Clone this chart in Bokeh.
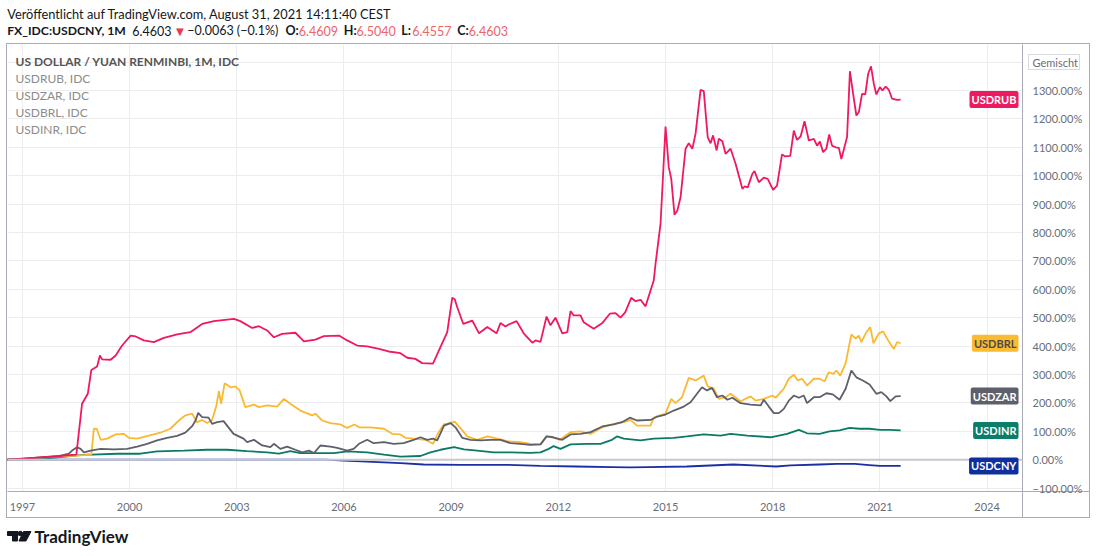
from bokeh.plotting import figure
from bokeh.layouts import column
from bokeh.models import (Range1d, FixedTicker, CustomJSTickFormatter, Label, Span)
from bokeh.embed import file_html
from bokeh.resources import INLINE

# ---------------- data (percent change vs. start, monthly series) ----
rub_t = [1996.57, 1997.0, 1997.5, 1998.0, 1998.51, 1998.67, 1998.83, 1998.93, 1999.09, 1999.17,
         1999.23, 1999.47, 1999.61, 1999.79, 2000.03, 2000.17, 2000.40, 2000.68, 2000.96, 2001.33,
         2001.70, 2002.03, 2002.36, 2002.92, 2003.10, 2003.43, 2003.62, 2003.85, 2004.04, 2004.27,
         2004.64, 2004.88, 2005.20, 2005.44, 2005.86, 2006.09, 2006.37, 2006.65, 2006.98, 2007.25,
         2007.58, 2007.77, 2008.00, 2008.19, 2008.49, 2008.89, 2009.03, 2009.10, 2009.17, 2009.34,
         2009.59, 2009.78, 2010.01, 2010.27, 2010.38, 2010.52, 2010.61, 2010.83, 2011.03, 2011.27,
         2011.36, 2011.50, 2011.67, 2011.78, 2011.92, 2012.11, 2012.25, 2012.34, 2012.43, 2012.62,
         2012.71, 2012.99, 2013.23, 2013.44, 2013.60, 2013.74, 2013.87, 2014.04, 2014.16, 2014.30,
         2014.44, 2014.58, 2014.67, 2014.72, 2014.86, 2015.00, 2015.09, 2015.16, 2015.25, 2015.33,
         2015.42, 2015.56, 2015.65, 2015.75, 2015.84, 2015.98, 2016.07, 2016.18, 2016.26, 2016.33,
         2016.43, 2016.49, 2016.59, 2016.68, 2016.82, 2016.96, 2017.15, 2017.21, 2017.30, 2017.43,
         2017.49, 2017.61, 2017.75, 2017.86, 2018.01, 2018.12, 2018.26, 2018.35, 2018.49, 2018.59,
         2018.68, 2018.78, 2018.89, 2019.01, 2019.15, 2019.24, 2019.32, 2019.41, 2019.50, 2019.58,
         2019.66, 2019.76, 2019.85, 2019.92, 2020.08, 2020.16, 2020.25, 2020.34, 2020.41, 2020.50,
         2020.59, 2020.67, 2020.75, 2020.83, 2020.90, 2021.00, 2021.07, 2021.16, 2021.25, 2021.34,
         2021.48, 2021.58]
rub_v = [0, 3, 8, 13, 18, 197, 232, 316, 328, 367,
         353, 352, 367, 402, 437, 434, 420, 414, 429, 441,
         449, 478, 488, 496, 488, 464, 470, 455, 431, 443,
         447, 417, 423, 435, 437, 420, 402, 399, 390, 381,
         375, 359, 355, 340, 338, 449, 570, 565, 537, 478,
         490, 445, 467, 445, 481, 469, 476, 488, 445, 412,
         420, 415, 504, 473, 500, 445, 449, 523, 508, 508,
         484, 461, 481, 514, 516, 500, 519, 570, 558, 563,
         540, 596, 631, 690, 831, 1173, 1030, 989, 863, 877,
         924, 1095, 1114, 1095, 1148, 1302, 1298, 1136, 1114, 1142,
         1089, 1130, 1121, 1077, 1095, 1042, 954, 962, 959, 1007,
         1016, 977, 993, 989, 950, 965, 1075, 1068, 1070, 1159,
         1126, 1138, 1192, 1124, 1130, 1106, 1120, 1083, 1095, 1145,
         1106, 1100, 1098, 1059, 1136, 1368, 1288, 1212, 1224, 1288,
         1286, 1359, 1385, 1323, 1286, 1312, 1300, 1314, 1302, 1271,
         1267, 1268]

brl_t = [1996.57, 1997.5, 1998.5, 1998.93, 1999.00, 1999.08, 1999.19, 1999.37, 1999.61, 1999.84,
         1999.98, 2000.21, 2000.54, 2000.86, 2001.14, 2001.38, 2001.56, 2001.75, 2001.89, 2002.03,
         2002.17, 2002.31, 2002.43, 2002.50, 2002.56, 2002.66, 2002.83, 2002.96, 2003.08, 2003.24,
         2003.48, 2003.62, 2003.85, 2004.13, 2004.32, 2004.50, 2004.78, 2005.11, 2005.20, 2005.39,
         2005.62, 2005.90, 2006.09, 2006.29, 2006.42, 2006.74, 2007.12, 2007.35, 2007.58, 2007.72,
         2007.95, 2008.28, 2008.49, 2008.65, 2008.79, 2008.98, 2009.10, 2009.26, 2009.45, 2009.73,
         2010.01, 2010.29, 2010.57, 2010.94, 2011.22, 2011.50, 2011.67, 2011.85, 2012.04, 2012.34,
         2012.62, 2012.90, 2013.23, 2013.55, 2013.83, 2014.02, 2014.20, 2014.58, 2014.67, 2015.00,
         2015.16, 2015.28, 2015.46, 2015.65, 2015.84, 2016.07, 2016.18, 2016.35, 2016.49, 2016.68,
         2016.82, 2017.10, 2017.38, 2017.52, 2017.75, 2017.99, 2018.08, 2018.31, 2018.45, 2018.59,
         2018.70, 2018.82, 2018.96, 2019.15, 2019.31, 2019.45, 2019.57, 2019.70, 2019.78, 2019.89,
         2020.04, 2020.20, 2020.32, 2020.41, 2020.48, 2020.62, 2020.73, 2020.82, 2020.97, 2021.09,
         2021.23, 2021.39, 2021.48, 2021.58]
brl_v = [0, 7, 14, 18, 109, 109, 70, 74, 89, 91,
         77, 74, 85, 95, 109, 138, 156, 162, 132, 140,
         129, 140, 191, 241, 197, 269, 255, 258, 244, 185,
         194, 185, 191, 187, 214, 197, 173, 156, 162, 138,
         129, 124, 112, 124, 114, 114, 109, 91, 89, 77,
         74, 70, 56, 97, 124, 129, 134, 111, 82, 70,
         82, 74, 65, 62, 56, 54, 82, 79, 70, 97,
         100, 91, 114, 126, 132, 140, 120, 120, 148, 162,
         214, 199, 220, 288, 279, 296, 258, 250, 214, 220,
         232, 206, 223, 208, 214, 226, 218, 250, 285, 299,
         279, 285, 261, 285, 285, 276, 308, 302, 314, 296,
         340, 441, 426, 437, 414, 449, 467, 410, 445, 452,
         420, 390, 414, 410]

zar_t = [1996.57, 1997.0, 1997.5, 1998.0, 1998.30, 1998.39, 1998.53, 1998.63, 1998.72, 1998.91,
         1999.19, 1999.56, 1999.93, 2000.21, 2000.49, 2000.77, 2001.05, 2001.33, 2001.56, 2001.75,
         2001.84, 2001.92, 2002.03, 2002.21, 2002.31, 2002.45, 2002.63, 2002.91, 2003.19, 2003.29,
         2003.48, 2003.71, 2003.94, 2004.04, 2004.22, 2004.41, 2004.64, 2004.83, 2005.02, 2005.16,
         2005.34, 2005.62, 2005.81, 2006.09, 2006.27, 2006.42, 2006.65, 2006.83, 2007.12, 2007.39,
         2007.67, 2007.95, 2008.14, 2008.33, 2008.49, 2008.61, 2008.80, 2008.98, 2009.12, 2009.31,
         2009.54, 2009.82, 2010.10, 2010.38, 2010.66, 2010.94, 2011.22, 2011.50, 2011.67, 2011.85,
         2012.11, 2012.34, 2012.62, 2012.90, 2013.23, 2013.55, 2013.78, 2014.00, 2014.20, 2014.58,
         2014.77, 2015.00, 2015.23, 2015.51, 2015.70, 2015.88, 2016.02, 2016.16, 2016.30, 2016.44,
         2016.59, 2016.73, 2016.87, 2017.10, 2017.38, 2017.66, 2017.75, 2017.89, 2018.03, 2018.17,
         2018.31, 2018.45, 2018.59, 2018.73, 2018.87, 2018.96, 2019.15, 2019.31, 2019.50, 2019.68,
         2019.87, 2020.04, 2020.20, 2020.34, 2020.52, 2020.71, 2020.90, 2021.04, 2021.18, 2021.29,
         2021.44, 2021.58]
zar_v = [0, 4, 8, 12, 21, 32, 44, 38, 26, 32,
         38, 36, 38, 46, 56, 68, 77, 84, 95, 118,
         136, 165, 150, 148, 126, 132, 136, 91, 74, 62,
         70, 50, 44, 56, 38, 46, 35, 26, 32, 23,
         50, 46, 42, 32, 38, 56, 70, 58, 62, 56,
         58, 70, 79, 70, 74, 68, 120, 129, 114, 77,
         70, 68, 70, 70, 58, 56, 52, 54, 82, 79,
         70, 89, 91, 97, 117, 124, 132, 148, 138, 140,
         152, 159, 173, 187, 202, 232, 255, 244, 253, 220,
         226, 211, 218, 199, 194, 191, 211, 187, 164, 164,
         179, 208, 226, 218, 226, 199, 220, 220, 234, 230,
         211, 250, 314, 290, 279, 265, 232, 238, 223, 206,
         223, 224]

inr_t = [1996.57, 1997.5, 1998.0, 1998.53, 1998.81, 1998.95, 1999.65, 2000.30, 2000.77, 2001.52,
         2002.17, 2002.73, 2003.29, 2003.85, 2004.18, 2004.50, 2004.78, 2005.16, 2005.72, 2006.09,
         2006.65, 2007.12, 2007.58, 2008.14, 2008.42, 2008.70, 2009.08, 2009.36, 2009.73, 2010.19,
         2010.66, 2011.22, 2011.50, 2011.73, 2011.87, 2012.06, 2012.34, 2012.80, 2013.18, 2013.50,
         2013.64, 2013.83, 2014.30, 2014.67, 2015.23, 2015.60, 2016.07, 2016.54, 2016.82, 2017.29,
         2017.94, 2018.40, 2018.73, 2018.96, 2019.31, 2019.59, 2019.87, 2020.15, 2020.43, 2020.71,
         2021.00, 2021.27, 2021.58]
inr_v = [0, 3, 8, 15, 18, 18, 21, 21, 29, 32,
         35, 35, 30, 26, 21, 30, 23, 23, 23, 29,
         26, 18, 11, 13, 26, 35, 44, 36, 32, 26,
         26, 24, 26, 38, 48, 38, 54, 56, 56, 70,
         82, 74, 68, 74, 77, 82, 89, 85, 91, 85,
         79, 91, 105, 93, 91, 100, 103, 112, 109, 109,
         105, 105, 103]

cny_t = [1996.57, 2005.50, 2006.00, 2006.65, 2007.58, 2008.23, 2009.26, 2010.50, 2011.50, 2012.50,
         2013.50, 2014.00, 2014.50, 2015.60, 2016.90, 2018.10, 2018.50, 2019.30, 2019.80, 2020.30,
         2020.70, 2021.00, 2021.58]
cny_v = [0, 0, -3, -7, -12, -17, -18, -18, -22, -24,
         -26, -27, -26, -24, -17, -24, -20, -17, -15, -15,
         -19, -22, -22]

x_ticks = [1997, 2000, 2003, 2006, 2009, 2012, 2015, 2018, 2021, 2024]
y_ticks = [-100, 0, 100, 200, 300, 400, 500, 600, 700, 800, 900, 1000, 1100, 1200, 1300, 1400]
scale_button = "Gemischt"

series = [  # name, times, values, line colour, badge colour, badge text colour
    ("USDCNY", cny_t, cny_v, "#1a2fa0", "#0f2f9e", "#ffffff"),
    ("USDINR", inr_t, inr_v, "#0a7a66", "#0b7d69", "#ffffff"),
    ("USDBRL", brl_t, brl_v, "#fbb832", "#fbbb30", "#4a4a4a"),
    ("USDZAR", zar_t, zar_v, "#5d606b", "#5d606b", "#ffffff"),
    ("USDRUB", rub_t, rub_v, "#f0185f", "#ec1a5e", "#ffffff"),
]

FONT = "Lato"
GRID = "#ececec"
BORDER = "#a9acb4"
BUTTON = "#d9dbe1"
DARK = "#131722"
RED = "#f0636a"


def lab(fig, x, y, text, color, size="12.5px", style="normal", align="left"):
    # x in pixels from the strip's left edge, y in the strip's (pixel-like) data units
    fig.add_layout(Label(x=x, y=y, x_units="screen", text=text, text_color=color,
                         text_font=FONT, text_font_size=size, text_font_style=style,
                         text_align=align, text_baseline="middle"))


# ---------------- header strip ----------------
head = figure(width=1098, height=43, x_range=Range1d(0, 1030), y_range=Range1d(43, 0),
              output_backend="svg", toolbar_location=None, x_axis_type=None,
              y_axis_type=None, min_border=0)
head.outline_line_color = None
head.grid.visible = False

lab(head, 6.7, 13.3, "Veröffentlicht auf TradingView.com, August 31, 2021 14:11:40 CEST", DARK,
    size="12.8px")
lab(head, 6.7, 30, "FX_IDC:USDCNY, 1M", DARK, size="12.2px", style="bold")
lab(head, 131.7, 30, "6.4603", DARK)
lab(head, 173, 30.5, "▼", "#f23645", size="13px")
lab(head, 186.7, 30, "−0.0063 (−0.1%)", DARK)
for xk, k, xv, val in [(285, "O:", 298.3, "6.4609"), (343.3, "H:", 356, "6.5040"),
                       (400.7, "L:", 411.7, "6.4557"), (456.7, "C:", 468.3, "6.4603")]:
    lab(head, xk, 30, k, DARK, style="bold")
    lab(head, xv, 30, val, RED)

# ---------------- main chart ----------------
# container frame (CSS border) plus the corner lines of the axis area and the
# outline of the scale-mode button, painted behind the transparent axis panels
segments = [  # (width, height, x, y) in px inside the chart container
    (1, 28, 1015, 447), (69, 1, 1015, 447),
    (52, 1, 1021, 10), (52, 1, 1021, 25), (1, 16, 1021, 10), (1, 16, 1072, 10),
]
seg_cols = [BORDER, BORDER, BUTTON, BUTTON, BUTTON, BUTTON]
container_style = {
    "border": "1px solid " + BORDER,
    "background-image": ", ".join("linear-gradient(%s, %s)" % (c, c) for c in seg_cols),
    "background-size": ", ".join("%dpx %dpx" % (w, h) for w, h, _, _ in segments),
    "background-position": ", ".join("%dpx %dpx" % (x, y) for _, _, x, y in segments),
    "background-repeat": "no-repeat",
}
p = figure(width=1084, height=475, x_range=Range1d(1996.583, 2024.99),
           y_range=Range1d(-112, 1462), output_backend="svg", toolbar_location=None,
           y_axis_location="right", min_border_left=0, min_border_right=69,
           min_border_top=0, min_border_bottom=28, styles=container_style,
           margin=(0, 0, 0, 6))
p.outline_line_color = None
p.background_fill_color = "white"
p.border_fill_color = None

p.xaxis.ticker = FixedTicker(ticks=x_ticks)
p.xaxis.formatter = CustomJSTickFormatter(code="return tick.toFixed(0);")
p.yaxis.ticker = FixedTicker(ticks=y_ticks)
p.yaxis.formatter = CustomJSTickFormatter(
    code="return (tick < 0 ? '\u2212' : '') + Math.abs(tick).toFixed(2) + '%';")
p.yaxis.major_label_overrides = {y_ticks[-1]: scale_button}
for ax in (p.xaxis[0], p.yaxis[0]):
    ax.axis_line_color = BORDER
    ax.major_tick_line_color = None
    ax.minor_tick_line_color = None
    ax.major_tick_out = 0
    ax.major_tick_in = 0
    ax.major_label_text_font = FONT
    ax.major_label_text_font_size = "11px"
    ax.major_label_text_color = "#6a6d78"
p.xaxis.major_label_standoff = 11
p.yaxis.major_label_standoff = 10

p.xgrid.ticker = FixedTicker(ticks=x_ticks)
p.ygrid.ticker = FixedTicker(ticks=y_ticks)
p.xgrid.grid_line_color = GRID
p.ygrid.grid_line_color = GRID

p.add_layout(Span(location=0, dimension="width", line_color="#c6c8d0", line_width=2))

for name, t, v, col, bcol, tcol in series:
    p.line(t, v, line_color=col, line_width=1.8)

# badges with the last value of every series, at the right edge of the pane
for name, t, v, col, bcol, tcol in series:
    p.add_layout(Label(x=1011, x_units="screen", y=v[-1], text=name, text_align="right",
                       text_baseline="middle", text_font=FONT, text_font_size="11px",
                       text_font_style="bold", text_color=tcol, background_fill_color=bcol,
                       border_radius=2, padding=2))

# pane legend (screen units: from frame bottom-left, y up; frame is 447 px high)
p.add_layout(Label(x=8, y=447 - 17, x_units="screen", y_units="screen",
                   text="US DOLLAR / YUAN RENMINBI, 1M, IDC", text_color="#555555",
                   text_font=FONT, text_font_size="12px", text_font_style="bold",
                   text_baseline="middle"))
for i, txt in enumerate(["USDRUB, IDC", "USDZAR, IDC", "USDBRL, IDC", "USDINR, IDC"]):
    p.add_layout(Label(x=8, y=447 - 34.3 - 16.9 * i, x_units="screen", y_units="screen",
                       text=txt, text_color="#8c8c8c", text_font=FONT,
                       text_font_size="12px", text_baseline="middle"))

# ---------------- footer with logo ----------------
foot = figure(width=1098, height=34, x_range=Range1d(0, 1030), y_range=Range1d(34, 0),
              output_backend="svg", toolbar_location=None, x_axis_type=None,
              y_axis_type=None, min_border=0)
foot.outline_line_color = None
foot.grid.visible = False
foot.quad(left=[7], right=[17], top=[13], bottom=[17], color=DARK)
foot.quad(left=[12], right=[17], top=[13], bottom=[22.5], color=DARK)
foot.scatter([19.8], [15], size=4.5, color=DARK)
foot.patch([23, 30.5, 25.5, 18.5], [13, 13, 22.5, 22.5], color=DARK)
lab(foot, 34, 17.5, "TradingView", DARK, size="17px", style="bold")

layout = column(head, p, foot, spacing=0)
open("out.html", "w").write(file_html(layout, INLINE))
